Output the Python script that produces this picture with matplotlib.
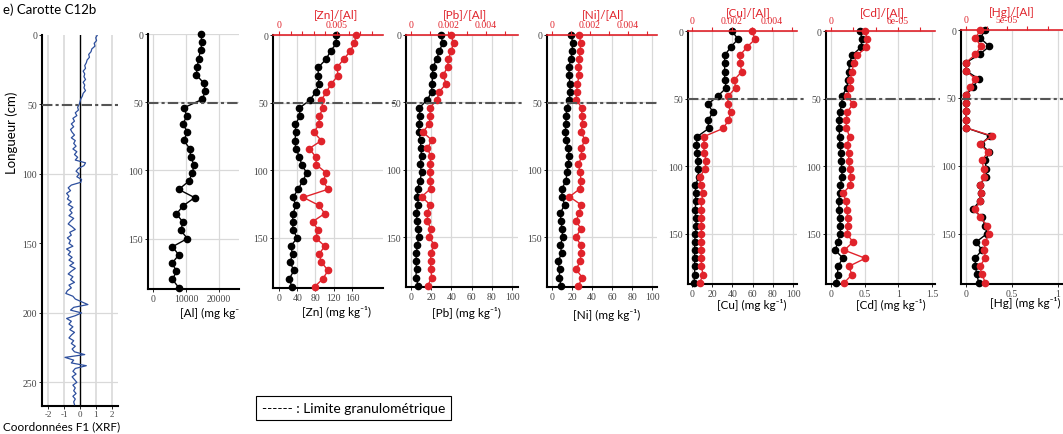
import numpy as np
import matplotlib.pyplot as plt

W, H = 1063, 435

# profil XRF (coordonnées F1), pas de 2 cm
depth_xrf = np.arange(0, 267, 2)
f1_xrf = [1.10, 1.00, 1.05, 0.90, 0.95, 0.75, 0.70, 0.55, 0.60, 0.45,
          0.40, 0.30, 0.35, 0.20, 0.30, 0.25, 0.35, 0.20, 0.30, 0.25,
          0.35, 0.20, 0.15, 0.05, 0.00, -0.05, -0.15, -0.10, -0.30, -0.20,
          -0.45, -0.35, -0.55, -0.40, -0.60, -0.50, -0.35, -0.55, -0.30, -0.40,
          -0.25, -0.45, -0.20, -0.35, -0.15, -0.30, 0.35, 0.25, -0.10, -0.25,
          -0.05, -0.20, 0.10, 0.05, -0.55, -0.75, -0.60, -0.85, -0.70, -0.80,
          -0.55, -0.75, -0.45, -0.65, -0.50, -0.70, -0.40, -0.60, -0.75, -0.50,
          -0.30, -0.65, -0.55, -0.80, -0.60, -0.70, -0.45, -0.85, -0.60, -0.75,
          -0.50, -0.70, -0.40, -0.65, -0.30, -0.55, -0.75, -0.45, -0.60, -0.35,
          -0.70, -0.55, -0.80, -0.90, -0.45, -0.30, 0.10, 0.50, -0.40, -0.60,
          0.10, -0.30, -0.85, -0.55, -0.70, -0.45, -0.65, -0.35, -0.55, -0.70,
          -0.40, -0.55, -0.30, -0.50, -0.35, 0.30, -0.95, -0.40, -0.55, 0.40,
          -0.30, -0.45, -0.25, -0.50, -0.35, -0.20, -0.45, -0.30, -0.40, -0.25,
          -0.45, -0.30, -0.40, -0.35]

# échantillons discrets, tous les 6 cm
depth = np.arange(0, 187, 6)
al = [14400, 14850, 14400, 13800, 13400, 13100, 15350, 15850, 14850, 9400,
      10200, 9100, 10400, 9300, 11100, 11400, 12400, 11900, 10800, 7800,
      12600, 9100, 7100, 9100, 8400, 10400, 5900, 7800, 5800, 7100, 5900, 7800]
zn = [125, 126, 113, 103, 86, 86, 88, 81, 68, 45, 46, 36, 37, 35, 37, 45,
      50, 61, 52, 42, 31, 37, 31, 30, 31, 40, 26, 30, 24, 33, 23, 28]
zn_al = [0.00666, 0.00651, 0.00614, 0.00557, 0.00500, 0.00509, 0.00451, 0.00409,
         0.00366, 0.00380, 0.00346, 0.00346, 0.00300, 0.00366, 0.00260, 0.00317,
         0.00323, 0.00409, 0.00380, 0.00423, 0.00209, 0.00346, 0.00394, 0.00289,
         0.00337, 0.00317, 0.00394, 0.00346, 0.00366, 0.00423, 0.00380, 0.00309]
pb = [29.7, 31.4, 28.0, 25.4, 21.5, 21.5, 20.8, 20.5, 16.2, 8.3, 8.9, 7.9,
      7.6, 9.6, 9.6, 10.6, 8.9, 10.6, 8.9, 6.6, 6.3, 7.3, 5.0, 6.3, 7.3, 7.6,
      6.3, 5.3, 5.0, 5.6, 4.6, 7.3]
pb_al = [0.00214, 0.00227, 0.00214, 0.00200, 0.00195, 0.00170, 0.00188, 0.00152,
         0.00138, 0.00102, 0.00102, 0.00098, 0.00063, 0.00111, 0.00088, 0.00105,
         0.00102, 0.00102, 0.00102, 0.00105, 0.00057, 0.00102, 0.00088, 0.00088,
         0.00105, 0.00098, 0.00125, 0.00105, 0.00105, 0.00105, 0.00111, 0.00089]
ni = [19.3, 20.7, 20.0, 19.0, 16.7, 17.3, 17.7, 18.3, 17.3, 15.0, 14.0, 14.0,
      13.3, 14.3, 16.0, 17.3, 16.0, 15.0, 14.0, 10.0, 10.0, 12.7, 8.3, 9.0,
      10.0, 10.7, 8.3, 9.7, 6.0, 7.7, 7.3, 9.0]
ni_al = [0.00144, 0.00151, 0.00148, 0.00144, 0.00139, 0.00143, 0.00134, 0.00130,
         0.00127, 0.00157, 0.00157, 0.00162, 0.00153, 0.00174, 0.00153, 0.00157,
         0.00139, 0.00148, 0.00153, 0.00148, 0.00092, 0.00153, 0.00144, 0.00127,
         0.00153, 0.00125, 0.00153, 0.00153, 0.00148, 0.00127, 0.00160, 0.00139]
cu = [39.6, 45.5, 38.3, 32.3, 32.3, 32.3, 32.3, 34.0, 25.7, 15.8, 20.8, 15.8,
      16.5, 5.3, 4.3, 5.3, 5.9, 5.9, 6.6, 3.3, 3.6, 3.6, 3.3, 3.6, 4.3, 3.3,
      2.6, 2.6, 2.6, 2.6, 2.6, 2.0]
cu_al = [0.00299, 0.00316, 0.00274, 0.00240, 0.00240, 0.00249, 0.00212, 0.00218,
         0.00182, 0.00178, 0.00195, 0.00182, 0.00156, 0.00060, 0.00060, 0.00060,
         0.00072, 0.00064, 0.00039, 0.00044, 0.00055, 0.00047, 0.00047, 0.00047,
         0.00047, 0.00047, 0.00047, 0.00044, 0.00047, 0.00047, 0.00055, 0.00039]
cd = [0.436, 0.460, 0.446, 0.312, 0.277, 0.262, 0.252, 0.238, 0.163, 0.163,
      0.129, 0.119, 0.119, 0.129, 0.129, 0.149, 0.149, 0.163, 0.163, 0.139,
      0.129, 0.114, 0.119, 0.129, 0.139, 0.139, 0.099, 0.064, 0.178, 0.099,
      0.099, 0.079]
cd_al = [3.07e-5, 3.22e-5, 3.16e-5, 2.33e-5, 2.03e-5, 1.88e-5, 1.73e-5, 1.73e-5,
         1.43e-5, 1.97e-5, 1.43e-5, 1.37e-5, 1.37e-5, 1.67e-5, 1.43e-5, 1.58e-5,
         1.58e-5, 1.67e-5, 1.79e-5, 1.73e-5, 1.07e-5, 1.37e-5, 1.43e-5, 1.49e-5,
         1.52e-5, 1.43e-5, 1.97e-5, 1.19e-5, 3.07e-5, 1.58e-5, 1.88e-5, 1.19e-5]
hg = [0.209, 0.155, 0.255, 0.147, 0.0, 0.0, 0.137, 0.076, 0.0, 0.0, 0.0, 0.0,
      0.0, 0.263, 0.162, 0.255, 0.209, 0.219, 0.219, 0.147, 0.162, 0.147,
      0.076, 0.173, 0.209, 0.227, 0.112, 0.173, 0.101, 0.101, 0.119, 0.137]
hg_al = [1.75e-5, 1.14e-5, 1.83e-5, 1.14e-5, 0.0, 0.0, 1.14e-5, 0.53e-5,
         0.0, 0.0, 0.0, 0.0, 0.0, 3.17e-5, 1.75e-5, 2.64e-5,
         1.95e-5, 2.15e-5, 2.24e-5, 1.75e-5, 1.83e-5, 1.75e-5, 1.14e-5, 1.75e-5,
         2.56e-5, 2.76e-5, 2.36e-5, 2.24e-5, 2.36e-5, 1.67e-5, 1.95e-5, 2.36e-5]

LIMITE = 50.5

RED = '#e0232b'
GRID = '#d9d9d9'
DASH = '#555555'
TICKC = '#444444'
LAB = ['Lato', 'DejaVu Sans']

plt.rcParams['font.family'] = ['Liberation Serif', 'DejaVu Serif']
plt.rcParams['axes.unicode_minus'] = False


def frac(l, t, r, b):
    return [l / W, 1 - b / H, (r - l) / W, (b - t) / H]


def ftext(x, y, s, **kw):
    kw.setdefault('family', LAB)
    kw.setdefault('ha', 'center')
    kw.setdefault('va', 'center')
    fig.text(x / W, 1 - y / H, s, **kw)


def limite(ax, width, ext):
    ax.plot([0, 1 + ext / width], [LIMITE, LIMITE], transform=ax.get_yaxis_transform(),
            color=DASH, lw=1.5, ls=(0, (5, 1.5, 1.5, 1.5)), clip_on=False, zorder=6)


def base_style(ax):
    for s in ('top', 'right'):
        ax.spines[s].set_visible(False)
    ax.spines['left'].set_linewidth(1.5)
    ax.spines['bottom'].set_linewidth(1.5)
    ax.tick_params(length=2, width=0.6, pad=1.5, labelsize=7, labelcolor=TICKC)
    ax.set_axisbelow(True)


fig = plt.figure(figsize=(W / 100, H / 100), dpi=100)

# --- panneau XRF ---
ax = fig.add_axes(frac(42, 36, 118, 407))
base_style(ax)
ax.tick_params(axis='x', pad=1, labelsize=6.5)
ax.set_xlim(-2.41, 2.41)
ax.set_ylim(267, 0)
ax.set_xticks([-2, -1, 0, 1, 2])
ax.set_yticks([0, 50, 100, 150, 200, 250])
for gx in [-2, -1, 1, 2]:
    ax.axvline(gx, color=GRID, lw=1.2, zorder=0)
for gy in [100, 200, 250]:
    ax.axhline(gy, color=GRID, lw=0.9, zorder=0)
ax.axvline(0, color='black', lw=1.0, zorder=1)
ax.plot(f1_xrf, depth_xrf, color='#2d4f9e', lw=0.9, zorder=3)
limite(ax, 76, 0)

ftext(3, 10, 'e) Carotte C12b', ha='left', fontsize=9.5)
ftext(12, 133, 'Longueur (cm)', rotation=90, fontsize=9.5)
ftext(62, 427, 'Coordonnées F1 (XRF)', fontsize=8.5)

# --- panneau Al ---
ax = fig.add_axes(frac(148, 35, 239, 290))
base_style(ax)
ax.set_xlim(-1500, 26000)
ax.set_ylim(187, 0)
ax.set_xticks([0, 10000, 20000])
ax.set_yticks([0, 50, 100, 150])
ax.grid(True, color=GRID, lw=0.9)
ax.plot(al, depth, color='black', lw=1, marker='o', ms=4.5, clip_on=False, zorder=3)
limite(ax, 91, 0)
ftext(180, 313, '[Al] (mg kg⁻', ha='left', fontsize=8.5)

# --- panneaux métal / rapport ---
panels = [
    dict(box=(273, 36, 383, 289), conc=zn, ratio=zn_al, xlim=(-13, 228),
         xticks=[0, 40, 80, 120, 160], xlabels=['0', '40', '80', '120', '160'],
         xlim2=(-0.00052, 0.00897), ticks2=[0, 0.005], labels2=['0', '0.005'],
         minor2=[0.001, 0.002, 0.003, 0.004, 0.006, 0.007, 0.008],
         label='[Zn] (mg kg⁻¹)', lab_xy=(336, 312), title='[Zn]/[Al]', title_xy=(336, 15), ext=12),
    dict(box=(406, 36, 518, 288), conc=pb, ratio=pb_al, xlim=(-4.95, 105.9),
         xticks=[0, 20, 40, 60, 80, 100], xlabels=['0', '20', '40', '60', '80', '100'],
         xlim2=(-0.000267, 0.00571), ticks2=[0, 0.002, 0.004], labels2=['0', '0.002', '0.004'],
         minor2=[0.001, 0.003, 0.005],
         label='[Pb] (mg kg⁻¹)', lab_xy=(466, 313), title='[Pb]/[Al]', title_xy=(465, 15), ext=4),
    dict(box=(547, 36, 657, 288), conc=ni, ratio=ni_al, xlim=(-5, 105),
         xticks=[0, 20, 40, 60, 80, 100], xlabels=['0', '20', '40', '60', '80', '100'],
         xlim2=(-0.000263, 0.00553), ticks2=[0, 0.002, 0.004], labels2=['0', '0.002', '0.004'],
         minor2=[0.001, 0.003, 0.005],
         label='[Ni] (mg kg⁻¹)', lab_xy=(607, 315), title='[Ni]/[Al]', title_xy=(603, 15), ext=2),
    dict(box=(688, 32, 797, 285), conc=cu, ratio=cu_al, xlim=(-3.96, 103.96),
         xticks=[0, 20, 40, 60, 80, 100], xlabels=['0', '20', '40', '60', '80', '100'],
         xlim2=(-0.0002, 0.00525), ticks2=[0, 0.002, 0.004], labels2=['0', '0.002', '0.004'],
         minor2=[0.001, 0.003, 0.005],
         label='[Cu] (mg kg⁻¹)', lab_xy=(752, 305), title='[Cu]/[Al]', title_xy=(748, 13), ext=8),
    dict(box=(826, 32, 935, 285), conc=cd, ratio=cd_al, xlim=(-0.0743, 1.545),
         xticks=[0, 0.5, 1, 1.5], xlabels=['0', '0.5', '1', '1.5'],
         xlim2=(-0.45e-5, 9.31e-5), ticks2=[0, 6e-5], labels2=['0', '6e-05'],
         minor2=[2e-5, 4e-5, 8e-5],
         label='[Cd] (mg kg⁻¹)', lab_xy=(891, 305), title='[Cd]/[Al]', title_xy=(882, 13), ext=5),
    dict(box=(961, 31, 1063, 285), conc=hg, ratio=hg_al, xlim=(-0.0543, 1.0543),
         xticks=[0, 0.5, 1], xlabels=['0', '0.5', '1'],
         xlim2=(-0.61e-5, 11.83e-5), ticks2=[0, 5e-5], labels2=['0', '5e-05'],
         minor2=[2.5e-5, 7.5e-5, 10e-5],
         label='[Hg] (mg kg⁻¹)', lab_xy=(1025, 303), title='[Hg]/[Al]', title_xy=(1012, 12), ext=0),
]

for p in panels:
    l, t, r, b = p['box']
    ax = fig.add_axes(frac(l, t, r, b))
    base_style(ax)
    ax.set_xlim(*p['xlim'])
    ax.set_ylim(187, 0)
    ax.set_xticks(p['xticks'])
    ax.set_xticklabels(p['xlabels'])
    ax.set_yticks([0, 50, 100, 150])
    ax.grid(True, color=GRID, lw=0.9)
    ax.plot(p['conc'], depth, color='black', lw=1, marker='o', ms=4.5, clip_on=False, zorder=3)

    ax2 = ax.twiny()
    for s in ('bottom', 'left', 'right'):
        ax2.spines[s].set_visible(False)
    ax2.spines['top'].set_color(RED)
    ax2.spines['top'].set_linewidth(1.2)
    ax2.set_xlim(*p['xlim2'])
    ax2.set_xticks(p['ticks2'])
    ax2.set_xticklabels(p['labels2'])
    ax2.set_xticks(p['minor2'], minor=True)
    ax2.tick_params(axis='x', which='both', colors=RED, length=3, width=0.8, pad=1,
                    labelsize=7, labelcolor=RED)
    ax2.plot(p['ratio'], depth, color=RED, lw=1, marker='o', ms=4.5, clip_on=False, zorder=4)
    limite(ax2, r - l, p['ext'])

    ftext(*p['lab_xy'], p['label'], fontsize=8.5)
    ftext(*p['title_xy'], p['title'], fontsize=8.5, color=RED)

# légende
ftext(262, 409, '------ : Limite granulométrique', ha='left', fontsize=10,
      bbox=dict(boxstyle='square,pad=0.4', fc='white', ec='black', lw=0.8))

fig.savefig('out.png', dpi=100)
